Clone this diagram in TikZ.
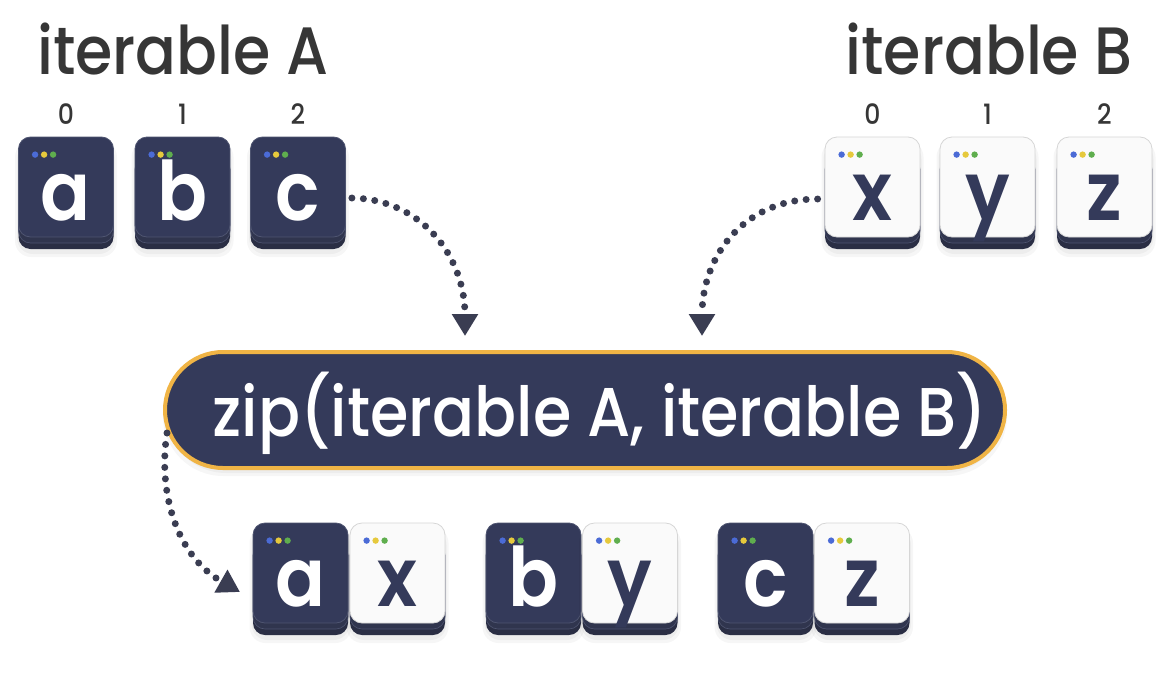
\documentclass[tikz,border=0pt]{standalone}
\usepackage{fontspec}
\setmainfont{Poppins Medium}[FakeStretch=0.9]
\newfontfamily\tilefont{Poppins SemiBold}[FakeStretch=0.9]
\usetikzlibrary{arrows.meta,calc}
\definecolor{navy}{HTML}{343A5A}
\definecolor{navybase}{HTML}{2A2E44}
\definecolor{navymid}{HTML}{30354E}
\definecolor{edgeline}{HTML}{4E5470}
\definecolor{lightface}{HTML}{FAFAFA}
\definecolor{lightedge}{HTML}{D6D6D6}
\definecolor{orng}{HTML}{F0B445}
\definecolor{headgray}{HTML}{363636}
\definecolor{dotline}{HTML}{3A3D52}
\definecolor{dblue}{HTML}{4B6BD6}
\definecolor{dyellow}{HTML}{E6C93C}
\definecolor{dgreen}{HTML}{5FAE4E}
\tikzset{
  heading/.style={font=\fontsize{67}{67}\selectfont, text=headgray, inner sep=0pt},
  idx/.style={font=\fontsize{28}{28}\selectfont, text=headgray, inner sep=0pt},
  darkface/.style={draw=edgeline, line width=0.8pt, fill=navy, rounded corners=12pt,
    minimum width=95pt, minimum height=100pt, inner sep=0pt, text=white,
    font=\tilefont\fontsize{82}{82}\selectfont, text height=66pt, text depth=0pt},
  lightface/.style={draw=lightedge, line width=0.8pt, fill=lightface, rounded corners=12pt,
    minimum width=95pt, minimum height=100pt, inner sep=0pt, text=navy,
    font=\tilefont\fontsize{82}{82}\selectfont, text height=66pt, text depth=0pt},
  tilebase/.style={fill=navybase, rounded corners=12pt},
  tilemid/.style={fill=navymid, draw=edgeline, line width=0.6pt, rounded corners=12pt},
  softshadow/.style={fill=black, opacity=0.035, rounded corners=16pt},
  pill/.style={draw=orng, line width=4pt, fill=navy, rounded corners=58pt,
    minimum width=840pt, minimum height=116pt, inner sep=0pt},
  pilltext/.style={font=\fontsize{69}{69}\selectfont, text=white, inner sep=0pt},
  conn/.style={draw=dotline, line width=7pt, line cap=round,
    dash pattern=on 0pt off 11.5pt,
    -{Triangle[width=25pt,length=22pt,fill=dotline]}},
}
\newcommand\mytile[5]{% name, cx, cy, letter, face style
  \path[softshadow] ({#2-51},{#3-46}) rectangle ({#2+51},{#3+70});
  \path[softshadow] ({#2-49},{#3-44}) rectangle ({#2+49},{#3+67});
  \path[tilebase] ({#2-47.5},{#3-30}) rectangle ({#2+47.5},{#3+62});
  \path[tilemid] ({#2-47.5},{#3-30}) rectangle ({#2+47.5},{#3+56});
  \node[#5] (#1) at (#2,#3) {#4};
  \fill[dblue] ($(#1.north west)+(17,18)$) circle (3.2pt);
  \fill[dyellow] ($(#1.north west)+(26,18)$) circle (3.2pt);
  \fill[dgreen] ($(#1.north west)+(35,18)$) circle (3.2pt);
}
\begin{document}
\begin{tikzpicture}[x=1pt,y=-1pt]
\useasboundingbox (0,0) rectangle (1174,688);
\fill[white] (0,0) rectangle (1174,688);

% headings
\node[heading, anchor=base west] (hA) at (37,74) {iterable A};
\node[heading, anchor=base east] (hB) at (1133,74) {iterable B};

% index labels
\node[idx] (iA0) at (66,114) {0};
\node[idx] (iA1) at (182.5,114) {1};
\node[idx] (iA2) at (298,114) {2};
\node[idx] (iB0) at (872.5,114) {0};
\node[idx] (iB1) at (987.5,114) {1};
\node[idx] (iB2) at (1104.5,114) {2};

% top tiles
\mytile{ta}{66}{187}{a}{darkface}
\mytile{tb}{182.5}{187}{b}{darkface}
\mytile{tc}{298}{187}{c}{darkface}
\mytile{tx}{872.5}{187}{x}{lightface}
\mytile{ty}{987.5}{187}{y}{lightface}
\mytile{tz}{1104.5}{187}{z}{lightface}

% pill
\path[softshadow, rounded corners=60pt] (163,356) rectangle (1007,476);
\path[softshadow, rounded corners=60pt] (166,358) rectangle (1004,473);
\node[pill] (zip) at (585,410) {};
\node[pilltext, anchor=base] (ziptext) at (600,436) {zip(iterable A, iterable B)};

% bottom tiles
\mytile{ba}{300.5}{573}{a}{darkface}
\mytile{bx}{397.5}{573}{x}{lightface}
\mytile{bb}{533.5}{573}{b}{darkface}
\mytile{by}{630}{573}{y}{lightface}
\mytile{bc}{765.5}{573}{c}{darkface}
\mytile{bz}{862}{573}{z}{lightface}

% connectors
\coordinate (endA) at (465,336);
\coordinate (endB) at (702,336);
\coordinate (endZ) at (240,592);
\draw[conn] ([xshift=6pt,yshift=-11pt]tc.east) .. controls (420,199) and (465,255) .. (endA);
\draw[conn] ([xshift=-7pt,yshift=-12pt]tx.west) .. controls (745,199) and (702,255) .. (endB);
\draw[conn] ([xshift=4pt,yshift=-23pt]zip.west) .. controls (158,490) and (175,555) .. (endZ);
\end{tikzpicture}
\end{document}
